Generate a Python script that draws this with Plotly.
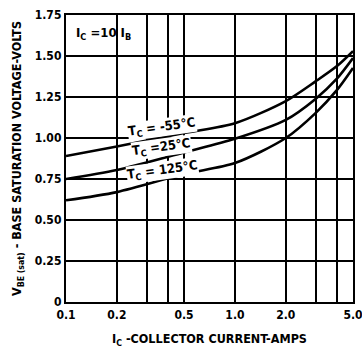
import math
import plotly.graph_objects as go

# Collector current (A) sample points along each curve
current_a = [0.1, 0.2, 0.5, 1.0, 2.0, 3.0, 4.0, 5.0]

# Base-emitter saturation voltage (V) at each case temperature
vbe_m55 = [0.89, 0.948, 1.03, 1.09, 1.225, 1.345, 1.437, 1.53]
vbe_25 = [0.75, 0.805, 0.912, 0.995, 1.11, 1.238, 1.36, 1.488]
vbe_125 = [0.62, 0.67, 0.78, 0.847, 1.0, 1.152, 1.29, 1.427]

curve_labels = ["T<sub>C</sub> = -55°C", "T<sub>C</sub> =25°C", "T<sub>C</sub> = 125°C"]
# label anchor positions (current, voltage)
label_x = [0.37, 0.37, 0.375]
label_y = [1.065, 0.945, 0.80]

x_ticks = [0.1, 0.2, 0.5, 1.0, 2.0, 5.0]
x_text = ["0.1", "0.2", "0.5", "1.0", "2.0", "5.0"]
x_minor_grid = [0.3, 0.4, 3.0, 4.0]
y_ticks = [0, 0.25, 0.5, 0.75, 1.0, 1.25, 1.5, 1.75]
y_text = ["0", "0.25", "0.50", "0.75", "1.00", "1.25", "1.50", "1.75"]

FONT = "DejaVu Sans Condensed, Liberation Sans Narrow, Arial Narrow, sans-serif"

fig = go.Figure()
for ys in (vbe_m55, vbe_25, vbe_125):
    fig.add_trace(go.Scatter(
        x=current_a, y=ys, mode="lines",
        line=dict(color="black", width=2.6, shape="spline", smoothing=0.8),
        showlegend=False, hoverinfo="skip",
    ))

for txt, lx, ly in zip(curve_labels, label_x, label_y):
    fig.add_annotation(
        x=math.log10(lx), y=ly, xref="x", yref="y", text=txt,
        showarrow=False, textangle=-8, bgcolor="white", borderpad=0,
        font=dict(family=FONT, size=13, color="black", weight="bold"),
    )

fig.add_annotation(
    x=math.log10(0.112), y=1.64, xref="x", yref="y", xanchor="left",
    text="I<sub>C</sub> =10 I<sub>B</sub>", showarrow=False,
    font=dict(family=FONT, size=13, color="black", weight="bold"),
)

grid_style = dict(gridcolor="black", gridwidth=1.6)
axis_common = dict(
    showline=True, linecolor="black", linewidth=2.4, mirror=True,
    showgrid=True, ticks="", zeroline=False, automargin=False,
    ticklabeloverflow="allow",
    tickfont=dict(family=FONT, size=12, color="black", weight="bold"),
    **grid_style,
)

fig.update_xaxes(
    type="log", range=[-1, math.log10(5.0)],
    tickmode="array", tickvals=x_ticks, ticktext=x_text,
    minor=dict(tickmode="array", tickvals=x_minor_grid, showgrid=True, ticks="", **grid_style),
    title=dict(text="I<sub>C</sub> -COLLECTOR CURRENT-AMPS",
               font=dict(family=FONT, size=12.5, color="black", weight="bold"), standoff=14),
    **axis_common,
)
fig.update_yaxes(
    range=[0, 1.75], tickmode="array", tickvals=y_ticks, ticktext=y_text,
    title=dict(text="V<sub>BE (sat)</sub> - BASE SATURATION VOLTAGE-VOLTS",
               font=dict(family=FONT, size=12.5, color="black", weight="bold"), standoff=10),
    **axis_common,
)

fig.update_layout(
    width=362, height=348,
    margin=dict(l=66, r=9, t=15, b=46),
    paper_bgcolor="white", plot_bgcolor="white",
    font=dict(family=FONT, color="black"),
)

fig.write_html("out.html")
